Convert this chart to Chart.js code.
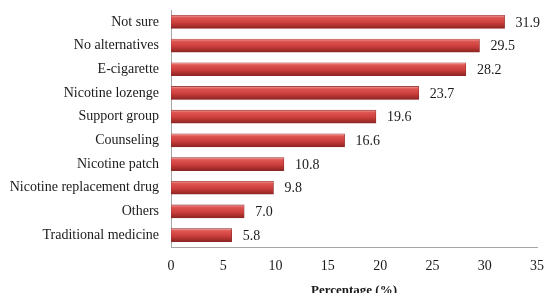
<!DOCTYPE html>
<html>
<head>
<meta charset="utf-8">
<script src="https://cdn.jsdelivr.net/npm/chart.js@4.4.1/dist/chart.umd.min.js"></script>
<style>
  html, body { margin: 0; padding: 0; background: #fff; overflow: hidden; }
  #wrap { width: 544px; height: 293px; position: relative; }
</style>
</head>
<body>
<div id="wrap"><canvas id="c" width="544" height="293"></canvas></div>
<script>
const categories = [
  "Not sure", "No alternatives", "E-cigarette", "Nicotine lozenge", "Support group",
  "Counseling", "Nicotine patch", "Nicotine replacement drug", "Others", "Traditional medicine"
];
const percentages = [31.9, 29.5, 28.2, 23.7, 19.6, 16.6, 10.8, 9.8, 7.0, 5.8];
const xTickValues = [0, 5, 10, 15, 20, 25, 30, 35];
const xTitle = "Percentage (%)";

const FONT = "'Liberation Serif', 'Times New Roman', serif";
const BAR_H = 13;

function barFill(ctx) {
  const chart = ctx.chart;
  const ys = chart.scales && chart.scales.y;
  if (ctx.type !== 'data' || !ys) return '#c0504d';
  const c = ys.getPixelForValue(ctx.dataIndex);
  if (!isFinite(c)) return '#c0504d';
  const g = chart.ctx.createLinearGradient(0, c - BAR_H / 2, 0, c + BAR_H / 2);
  g.addColorStop(0, '#f0a09e');
  g.addColorStop(0.18, '#de5552');
  g.addColorStop(0.55, '#cc3f3c');
  g.addColorStop(1, '#8f2422');
  return g;
}

const valueLabels = {
  id: 'valueLabels',
  afterDatasetsDraw(chart) {
    const meta = chart.getDatasetMeta(0);
    const c = chart.ctx;
    c.save();
    c.font = "14px " + FONT;
    c.fillStyle = '#1a1a1a';
    c.textAlign = 'left';
    c.textBaseline = 'middle';
    meta.data.forEach((bar, i) => {
      c.fillText(percentages[i].toFixed(1), bar.x + 11, bar.y + 1);
    });
    c.restore();
  }
};

new Chart(document.getElementById('c'), {
  type: 'bar',
  data: {
    labels: categories,
    datasets: [{
      data: percentages,
      backgroundColor: barFill,
      borderColor: '#8a2a28',
      borderWidth: 0.6,
      borderSkipped: false,
      barThickness: BAR_H
    }]
  },
  options: {
    indexAxis: 'y',
    responsive: false,
    animation: false,
    layout: { padding: { left: 0, right: 0, top: 0, bottom: 0 } },
    plugins: { legend: { display: false }, tooltip: { enabled: false } },
    scales: {
      x: {
        min: 0, max: 35,
        afterBuildTicks(scale) { scale.ticks = xTickValues.map(v => ({ value: v })); },
        afterFit(scale) { scale.height = 46; scale.paddingLeft = 0; scale.paddingRight = 7; },
        grid: { display: false, drawTicks: false },
        border: { display: true, color: '#a6a6a6', width: 1 },
        ticks: { font: { family: FONT, size: 14 }, color: '#1a1a1a', padding: 11, maxRotation: 0 },
        title: {
          display: true, text: xTitle, color: '#1a1a1a',
          font: { family: FONT, size: 13, weight: 'bold' },
          padding: { top: 0, bottom: -5 }
        }
      },
      y: {
        afterFit(scale) { scale.width = 171; scale.paddingTop = 10; scale.paddingBottom = 0; },
        grid: { display: false, drawTicks: false },
        border: { display: true, color: '#a6a6a6', width: 1 },
        ticks: { font: { family: FONT, size: 14 }, color: '#1a1a1a', padding: 12, autoSkip: false }
      }
    }
  },
  plugins: [valueLabels]
});
</script>
</body>
</html>
